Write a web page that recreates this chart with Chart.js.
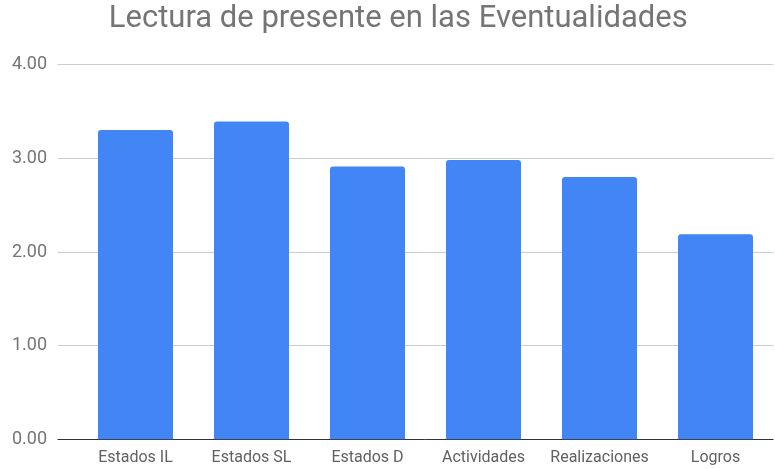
<!DOCTYPE html>
<html>
<head>
<meta charset="utf-8">
<script src="https://cdn.jsdelivr.net/npm/chart.js@4/dist/chart.umd.min.js"></script>
<style>
  html, body { margin: 0; padding: 0; background: #fff; }
  #lectura { display: block; }
</style>
</head>
<body>
<canvas id="lectura" width="775" height="469"></canvas>
<script>
const categorias = [
  'Estados IL',
  'Estados SL',
  'Estados D',
  'Actividades',
  'Realizaciones',
  'Logros',
];

const promedios = [3.30, 3.39, 2.91, 2.98, 2.80, 2.19];

const yTicks = [0, 1, 2, 3, 4];

const data = {
  labels: categorias,
  datasets: [{
    label: 'Lectura de presente',
    backgroundColor: '#4285f4',
    borderRadius: { topLeft: 3, topRight: 3 },
    borderSkipped: 'bottom',
    categoryPercentage: 1,
    barPercentage: 0.647,
    data: promedios,
  }]
};

const config = {
  type: 'bar',
  data: data,
  options: {
    responsive: false,
    animation: false,
    layout: { padding: { left: 23, right: 1.5, top: 0, bottom: 0 } },
    plugins: {
      legend: { display: false },
      tooltip: { enabled: false },
      title: {
        display: true,
        text: 'Lectura de presente en las Eventualidades',
        color: '#757575',
        font: { family: 'Roboto', size: 31, weight: 'normal' },
        padding: { top: 1, bottom: 26 },
      },
    },
    scales: {
      x: {
        grid: { display: false },
        border: { display: false },
        ticks: {
          color: '#616161',
          font: { family: 'Roboto', size: 16 },
          padding: 1,
          maxRotation: 0,
        },
      },
      y: {
        min: 0,
        max: 4,
        afterBuildTicks: (axis) => { axis.ticks = yTicks.map(v => ({ value: v })); },
        // narrow axis box so the title centres further right; labels hang out to the left
        afterFit: (axis) => { axis.width = 54.5; },
        grid: {
          color: (ctx) => ctx.tick && ctx.tick.value === 0 ? '#333333' : '#cccccc',
          tickLength: 20,
        },
        border: { display: false },
        ticks: {
          color: '#757575',
          font: { family: 'Roboto', size: 18 },
          mirror: true,
          padding: -65.5,
          callback: (v) => Number(v).toFixed(2),
        },
      },
    },
  },
};

const grafico = new Chart(document.getElementById('lectura'), config);
</script>
</body>
</html>
